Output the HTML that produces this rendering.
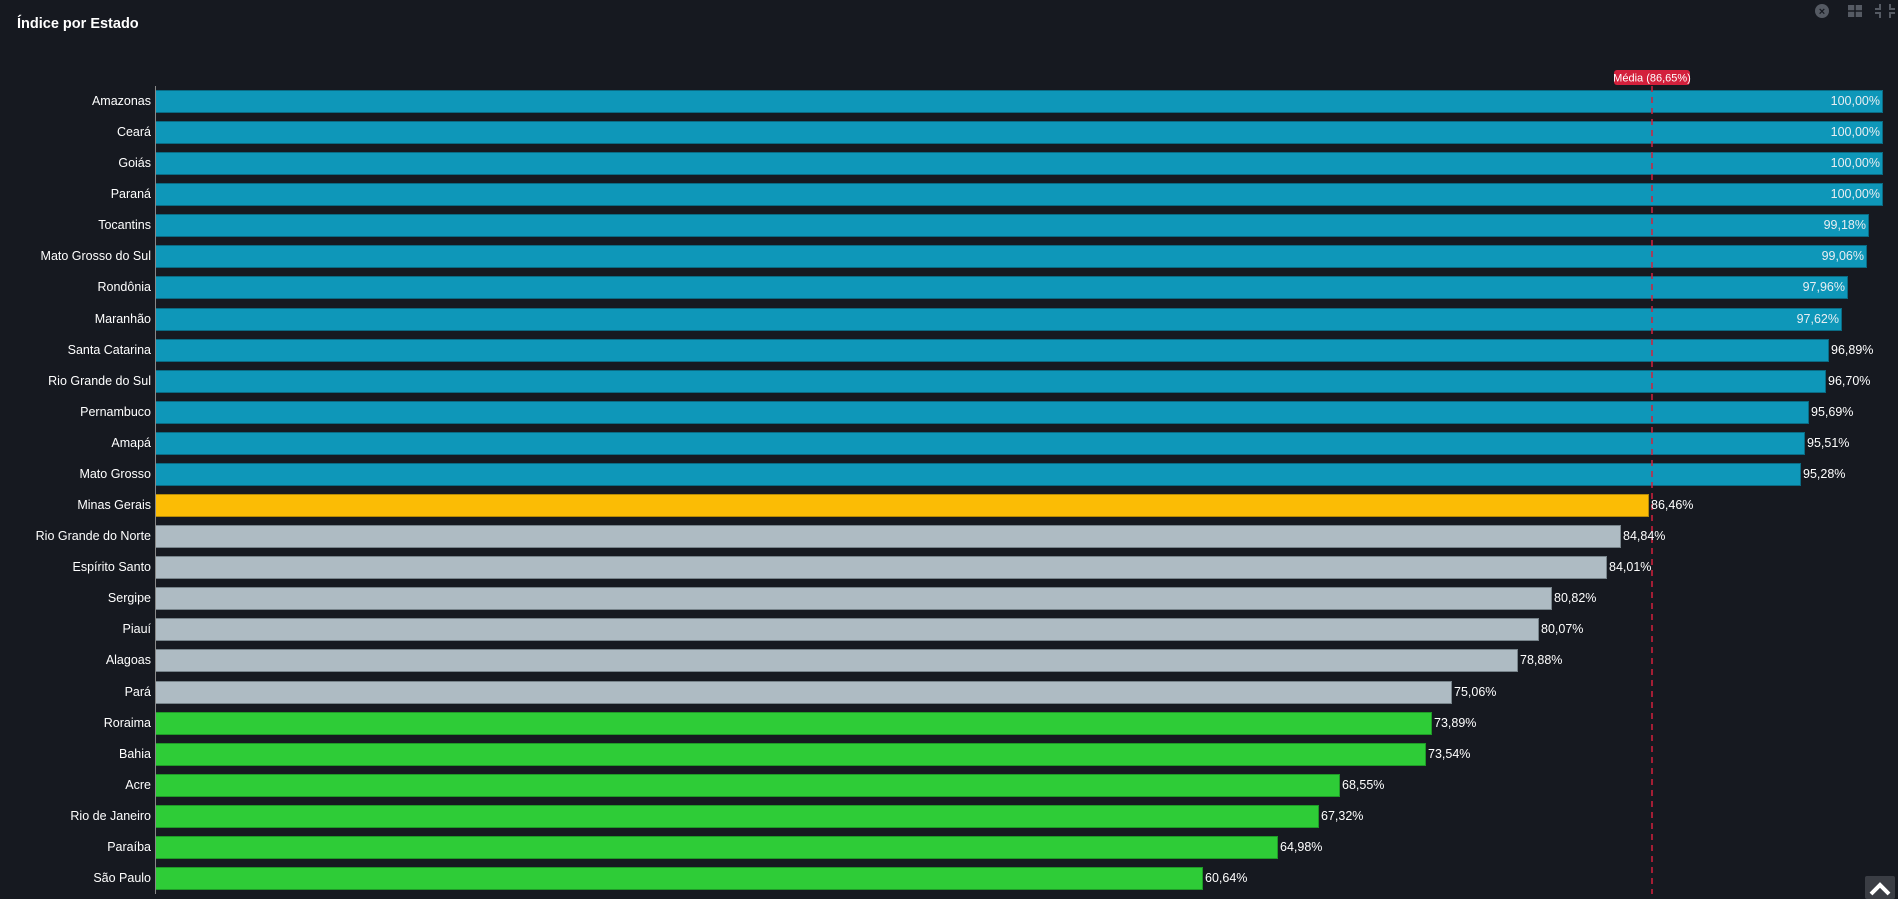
<!DOCTYPE html>
<html><head><meta charset="utf-8"><style>
html,body{margin:0;padding:0;background:#161920;width:1898px;height:899px;overflow:hidden}
svg{display:block;font-family:"Liberation Sans",sans-serif}
</style></head><body>
<svg width="1898" height="899" xmlns="http://www.w3.org/2000/svg">
<rect width="1898" height="899" fill="#161920"/>
<text x="17" y="28" fill="#fff" font-size="14.5" font-weight="bold">Índice por Estado</text>
<circle cx="1822" cy="11" r="7" fill="#555a63"/><text x="1822" y="15" fill="#161920" font-size="11" font-weight="bold" text-anchor="middle">×</text>
<rect x="1848" y="5" width="14" height="12" fill="#555a63"/><path d="M1848 11h14M1855 5v12" stroke="#161920" stroke-width="1.5"/>
<path d="M1880 4v5h-5M1890 4v5h5M1880 18v-5h-5M1890 18v-5h5" stroke="#555a63" stroke-width="2" fill="none"/>
<g stroke="#0a6b84" stroke-width="1">
<g fill="#0e97b9">
<rect x="155.5" y="90.5" width="1727" height="22"/>
<rect x="155.5" y="121.5" width="1727" height="22"/>
<rect x="155.5" y="152.5" width="1727" height="22"/>
<rect x="155.5" y="183.5" width="1727" height="22"/>
<rect x="155.5" y="214.5" width="1713" height="22"/>
<rect x="155.5" y="245.5" width="1711" height="22"/>
<rect x="155.5" y="276.5" width="1692" height="22"/>
<rect x="155.5" y="308.5" width="1686" height="22"/>
<rect x="155.5" y="339.5" width="1673" height="22"/>
<rect x="155.5" y="370.5" width="1670" height="22"/>
<rect x="155.5" y="401.5" width="1653" height="22"/>
<rect x="155.5" y="432.5" width="1649" height="22"/>
<rect x="155.5" y="463.5" width="1645" height="22"/>
</g>
<rect x="155.5" y="494.5" width="1493" height="22" fill="#fbbc05" stroke="#b58a08"/>
<g fill="#aebbc3" stroke="#77838a">
<rect x="155.5" y="525.5" width="1465" height="22"/>
<rect x="155.5" y="556.5" width="1451" height="22"/>
<rect x="155.5" y="587.5" width="1396" height="22"/>
<rect x="155.5" y="618.5" width="1383" height="22"/>
<rect x="155.5" y="649.5" width="1362" height="22"/>
<rect x="155.5" y="681.5" width="1296" height="22"/>
</g>
<g fill="#2ecc37" stroke="#1f9a27">
<rect x="155.5" y="712.5" width="1276" height="22"/>
<rect x="155.5" y="743.5" width="1270" height="22"/>
<rect x="155.5" y="774.5" width="1184" height="22"/>
<rect x="155.5" y="805.5" width="1163" height="22"/>
<rect x="155.5" y="836.5" width="1122" height="22"/>
<rect x="155.5" y="867.5" width="1047" height="22"/>
</g>
</g>
<line x1="155.5" y1="86" x2="155.5" y2="894" stroke="#888" stroke-width="1"/>
<line x1="1652" y1="86" x2="1652" y2="894" stroke="#d3203c" stroke-width="1.5" stroke-dasharray="6,5"/>
<rect x="1614" y="70" width="76" height="15" rx="3" fill="#d3203c"/>
<text x="1652" y="81.5" fill="#fff" font-size="11" text-anchor="middle">Média (86,65%)</text>
<g fill="#fff" font-size="12.5" text-anchor="end">
<text x="151" y="105">Amazonas</text>
<text x="151" y="136">Ceará</text>
<text x="151" y="167">Goiás</text>
<text x="151" y="198">Paraná</text>
<text x="151" y="229">Tocantins</text>
<text x="151" y="260">Mato Grosso do Sul</text>
<text x="151" y="291">Rondônia</text>
<text x="151" y="323">Maranhão</text>
<text x="151" y="354">Santa Catarina</text>
<text x="151" y="385">Rio Grande do Sul</text>
<text x="151" y="416">Pernambuco</text>
<text x="151" y="447">Amapá</text>
<text x="151" y="478">Mato Grosso</text>
<text x="151" y="509">Minas Gerais</text>
<text x="151" y="540">Rio Grande do Norte</text>
<text x="151" y="571">Espírito Santo</text>
<text x="151" y="602">Sergipe</text>
<text x="151" y="633">Piauí</text>
<text x="151" y="664">Alagoas</text>
<text x="151" y="696">Pará</text>
<text x="151" y="727">Roraima</text>
<text x="151" y="758">Bahia</text>
<text x="151" y="789">Acre</text>
<text x="151" y="820">Rio de Janeiro</text>
<text x="151" y="851">Paraíba</text>
<text x="151" y="882">São Paulo</text>
</g>
<g fill="#e8eef2" font-size="12.5" text-anchor="end">
<text x="1880" y="105">100,00%</text>
<text x="1880" y="136">100,00%</text>
<text x="1880" y="167">100,00%</text>
<text x="1880" y="198">100,00%</text>
<text x="1866" y="229">99,18%</text>
<text x="1864" y="260">99,06%</text>
<text x="1845" y="291">97,96%</text>
<text x="1839" y="323">97,62%</text>
</g>
<g fill="#fff" font-size="12.5">
<text x="1831" y="354">96,89%</text>
<text x="1828" y="385">96,70%</text>
<text x="1811" y="416">95,69%</text>
<text x="1807" y="447">95,51%</text>
<text x="1803" y="478">95,28%</text>
<text x="1651" y="509">86,46%</text>
<text x="1623" y="540">84,84%</text>
<text x="1609" y="571">84,01%</text>
<text x="1554" y="602">80,82%</text>
<text x="1541" y="633">80,07%</text>
<text x="1520" y="664">78,88%</text>
<text x="1454" y="696">75,06%</text>
<text x="1434" y="727">73,89%</text>
<text x="1428" y="758">73,54%</text>
<text x="1342" y="789">68,55%</text>
<text x="1321" y="820">67,32%</text>
<text x="1280" y="851">64,98%</text>
<text x="1205" y="882">60,64%</text>
</g>
<rect x="1865" y="876" width="30" height="23" rx="2" fill="#3a3d44"/>
<path d="M1871 894l9-9 9 9" stroke="#fff" stroke-width="4" fill="none"/>
</svg>
</body></html>
